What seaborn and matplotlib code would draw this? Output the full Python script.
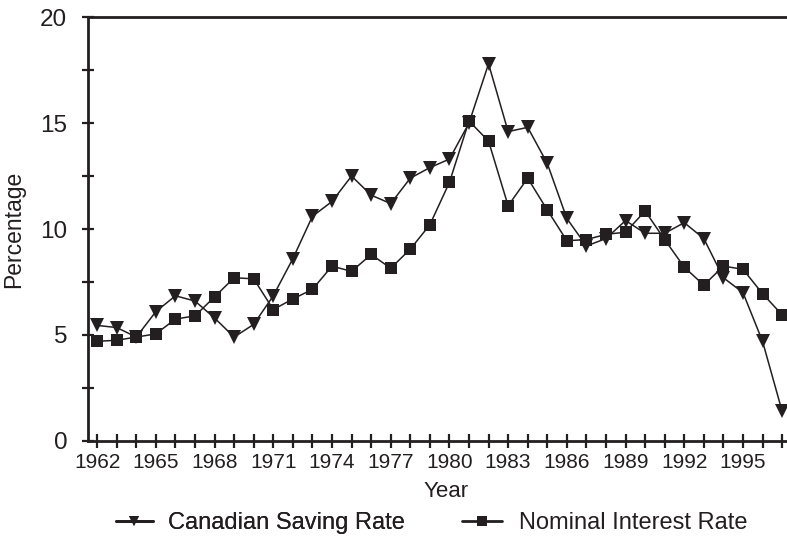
"""Canadian saving rate vs nominal interest rate, 1962-1997."""

import matplotlib
matplotlib.use("Agg")
import matplotlib.pyplot as plt
from matplotlib.lines import Line2D
from matplotlib.ticker import MultipleLocator
import pandas as pd
import seaborn as sns

years = list(range(1962, 1998))
saving_rate = [
    5.45, 5.35, 4.9, 6.1, 6.85, 6.6, 5.8, 4.9, 5.5, 6.85,
    8.6, 10.6, 11.3, 12.5, 11.6, 11.2, 12.4, 12.9, 13.3, 15.0,
    17.8, 14.6, 14.8, 13.1, 10.5, 9.2, 9.55, 10.4, 9.8, 9.8,
    10.3, 9.55, 7.7, 7.0, 4.7, 1.4,
]
interest_rate = [
    4.7, 4.75, 4.9, 5.05, 5.75, 5.9, 6.8, 7.7, 7.65, 6.2,
    6.7, 7.15, 8.25, 8.0, 8.8, 8.15, 9.05, 10.2, 12.2, 15.1,
    14.15, 11.1, 12.4, 10.9, 9.45, 9.5, 9.75, 9.85, 10.85, 9.5,
    8.2, 7.35, 8.25, 8.1, 6.95, 5.95,
]
series_names = ["Canadian Saving Rate", "Nominal Interest Rate"]

df = pd.DataFrame({"year": years, series_names[0]: saving_rate,
                   series_names[1]: interest_rate})

sns.set_theme(style="ticks")
plt.rcParams["font.family"] = ["Liberation Sans", "DejaVu Sans"]

ink = "#231f20"
fig = plt.figure(figsize=(7.87, 5.37), dpi=100)
ax = fig.add_axes([0.112, 0.179, 0.888, 0.789])

sns.lineplot(data=df, x="year", y=series_names[0], ax=ax, color=ink,
             marker="v", markersize=10, linewidth=1.1, markeredgewidth=0)
sns.lineplot(data=df, x="year", y=series_names[1], ax=ax, color=ink,
             marker="s", markersize=9, linewidth=1.1, markeredgewidth=0)

ax.set_xlim(1961.54, 1997.25)
ax.set_ylim(0, 20)
ax.set_xticks(list(range(1962, 1996, 3)))
ax.xaxis.set_minor_locator(MultipleLocator(1))
ax.yaxis.set_major_locator(MultipleLocator(5))
ax.yaxis.set_minor_locator(MultipleLocator(2.5))

for side in ["left", "bottom", "top"]:
    ax.spines[side].set_linewidth(2)
    ax.spines[side].set_color(ink)
ax.spines["right"].set_visible(False)

ax.tick_params(axis="both", which="both", direction="inout", color=ink,
               width=1.6, top=False, right=False)
ax.tick_params(axis="x", which="both", length=10, pad=4)
ax.tick_params(axis="y", which="both", length=8, pad=11)
ax.tick_params(axis="y", labelsize=17.5, labelcolor=ink)
ax.tick_params(axis="x", labelsize=15, labelcolor=ink)

ax.set_xlabel("Year", fontsize=16, color=ink)
ax.xaxis.set_label_coords(0.512, -0.095)
ax.set_ylabel("Percentage", fontsize=16.5, color=ink)
ax.yaxis.set_label_coords(-0.09, 0.5)

tri = Line2D([], [], color=ink, marker="v", markersize=7, linewidth=2, markeredgewidth=0)
sq = Line2D([], [], color=ink, marker="s", markersize=7, linewidth=2, markeredgewidth=0)
leg1 = fig.legend([tri], [series_names[0]], loc="center left", frameon=False,
                  bbox_to_anchor=(0.147, 0.026), fontsize=17, handlelength=1.57,
                  handletextpad=0.64, borderpad=0, borderaxespad=0, labelcolor=ink)
fig.add_artist(leg1)
fig.legend([sq], [series_names[1]], loc="center left", frameon=False,
           bbox_to_anchor=(0.587, 0.026), fontsize=17, handlelength=1.7,
           handletextpad=0.72, borderpad=0, borderaxespad=0, labelcolor=ink)

fig.savefig("out.png", dpi=100)
plt.close(fig)
